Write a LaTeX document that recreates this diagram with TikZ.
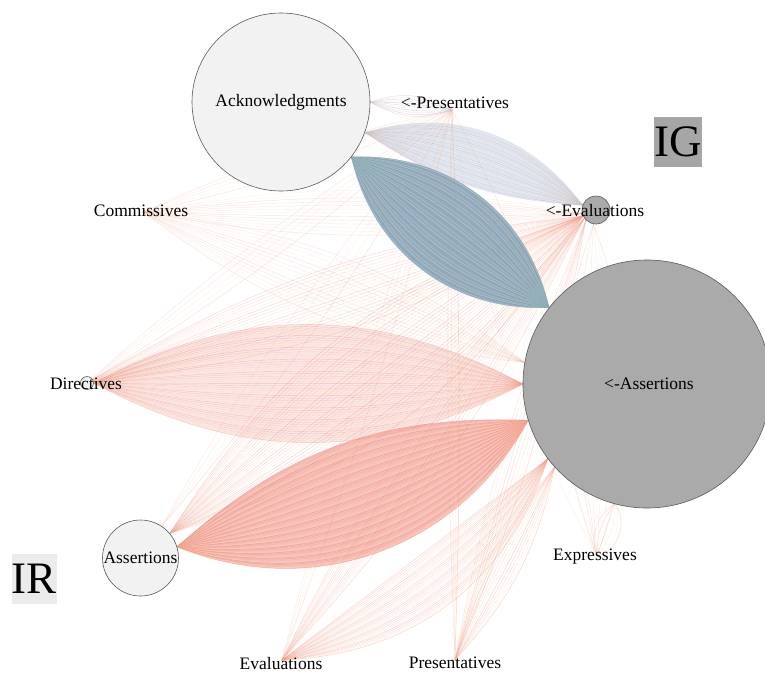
\documentclass[tikz,border=0pt]{standalone}
\usepackage{fontspec}
\setmainfont{Liberation Serif}
\pgfdeclarelayer{bg}
\pgfsetlayers{bg,main}
\definecolor{ackfill}{RGB}{242,242,242}
\definecolor{gnode}{RGB}{170,170,170}
\definecolor{nodeline}{RGB}{90,90,90}
\definecolor{igbox}{RGB}{166,166,166}
\definecolor{irbox}{RGB}{235,235,235}
\definecolor{blu0}{RGB}{130,160,185}
\definecolor{blu1}{RGB}{115,148,178}
\definecolor{blu2}{RGB}{160,205,220}
\definecolor{blu3}{RGB}{200,220,150}
\definecolor{blu4}{RGB}{128,152,180}
\definecolor{lbl0}{RGB}{190,205,225}
\definecolor{lbl1}{RGB}{170,190,215}
\definecolor{lbl2}{RGB}{240,150,150}
\definecolor{lbl3}{RGB}{250,225,160}
\definecolor{lbl4}{RGB}{200,210,230}
\definecolor{red0}{RGB}{240,120,120}
\definecolor{red1}{RGB}{245,170,140}
\definecolor{red2}{RGB}{250,225,150}
\definecolor{red3}{RGB}{240,140,150}
\definecolor{red4}{RGB}{248,190,180}
\definecolor{lensblue}{RGB}{138,162,184}
\definecolor{lenspale}{RGB}{215,225,238}
\definecolor{lensred}{RGB}{242,145,135}
\definecolor{lenspink}{RGB}{248,205,200}
\newcommand\edgebundle[7]{%
  \foreach \k in {0,...,#6}{%
    \pgfmathsetmacro\bb{#4+(#5-#4)*\k/#6}%
    \pgfmathtruncatemacro\cc{mod(\k*7,5)}%
    \draw[draw=#3\cc,draw opacity=#7,line width=.45pt] (#1) to[bend left=\bb] (#2);
  }}
\newcommand\lensfill[5]{%
  \fill[#3] (#1) to[bend left=#4] (#2) to[bend left=#5] (#1);}
\begin{document}
\begin{tikzpicture}[x=1pt,y=-1pt,
  lbl/.style={font=\fontsize{17.5}{20}\selectfont, inner sep=0pt},
  gnd/.style={circle, draw=nodeline, line width=.6pt, fill=gnode, inner sep=0pt},
  rnd/.style={circle, draw=nodeline, line width=.6pt, fill=ackfill, inner sep=0pt},
  big/.style={font=\fontsize{45}{45}\selectfont, inner sep=0pt, minimum height=50pt}]
\useasboundingbox (0,0) rectangle (765,673);
% nodes
\node[rnd, minimum size=178pt] (ack) at (281,102) {};
\node[lbl] (ackL) at (ack) {Acknowledgments};
\node[gnd, minimum size=248pt] (ga) at (647,384) {};
\node[lbl] (gaL) at (649,384) {<-Assertions};
\node[gnd, minimum size=28pt] (ge) at (596,210) {};
\node[lbl] (geL) at (595,211) {<-Evaluations};
\coordinate (gp) at (452,110);
\node[lbl] (gpL) at (455,103) {<-Presentatives};
\coordinate (cm) at (143,212);
\node[lbl] (cmL) at (141,211) {Commissives};
\node[rnd, minimum size=13pt] (dr) at (87,383) {};
\node[lbl] (drL) at (86,384) {Directives};
\node[rnd, minimum size=76pt] (as) at (140.5,558) {};
\node[lbl] (asL) at (as) {Assertions};
\coordinate (ex) at (597,556);
\node[lbl] (exL) at (595,557) {Expressives};
\coordinate (ev) at (282,660);
\node[lbl] (evL) at (281,663) {Evaluations};
\coordinate (pr) at (455,660);
\node[lbl] (prL) at (455,663) {Presentatives};
\node[big, fill=igbox, minimum width=46pt] (ig) at (678,142) {IG};
\node[big, fill=irbox, minimum width=43pt] (ir) at (34.5,579) {IR};
% edges
\begin{pgfonlayer}{bg}
\fill[white] (0,0) rectangle (765,673);
% light lens fills
\lensfill{ack.-20}{ge.160}{lenspale,opacity=.7}{35}{15}
\lensfill{dr.east}{ga.180}{lenspink,opacity=.45}{28}{28}
\lensfill{as.17}{ga.197}{lensred,opacity=.55}{22}{42}
% faint bundles
\edgebundle{cm}{ga.170}{red}{-15}{15}{14}{.22}
\edgebundle{cm}{ge.195}{red}{-10}{10}{12}{.22}
\edgebundle{cm}{gp}{red}{-6}{6}{4}{.22}
\edgebundle{dr}{gp}{red}{-5}{5}{4}{.22}
\edgebundle{as.56}{gp}{red}{-5}{5}{3}{.25}
\edgebundle{ev}{gp}{red}{-3}{3}{3}{.25}
\edgebundle{pr}{gp}{red}{-2}{2}{3}{.35}
\edgebundle{ex}{gp}{red}{-10}{10}{2}{.2}
\edgebundle{ex}{ge.260}{red}{-20}{20}{5}{.25}
\edgebundle{ex}{ga.255}{red}{-60}{60}{6}{.3}
\edgebundle{pr}{ge.225}{red}{-6}{6}{8}{.3}
\edgebundle{pr}{ga.222}{red}{-15}{15}{12}{.35}
\edgebundle{ev}{ge.215}{red}{-8}{8}{14}{.3}
\edgebundle{ev}{ga.217}{red}{-35}{0}{30}{.35}
\edgebundle{dr}{ge.205}{red}{-12}{12}{20}{.3}
\edgebundle{dr.east}{ga.180}{red}{-28}{28}{50}{.35}
\edgebundle{as.40}{ge.205}{red}{-20}{20}{30}{.35}
\edgebundle{as.17}{ga.197}{red}{-42}{22}{75}{.5}
% blue bundles
\edgebundle{ack.0}{gp}{lbl}{-25}{25}{10}{.5}
\edgebundle{ack.-20}{ge.160}{lbl}{-15}{35}{30}{.45}
\lensfill{ack.-38}{ga.142}{lensblue,opacity=.85}{40}{40}
\edgebundle{ack.-38}{ga.142}{blu}{-40}{40}{60}{.55}
\end{pgfonlayer}
\end{tikzpicture}
\end{document}
